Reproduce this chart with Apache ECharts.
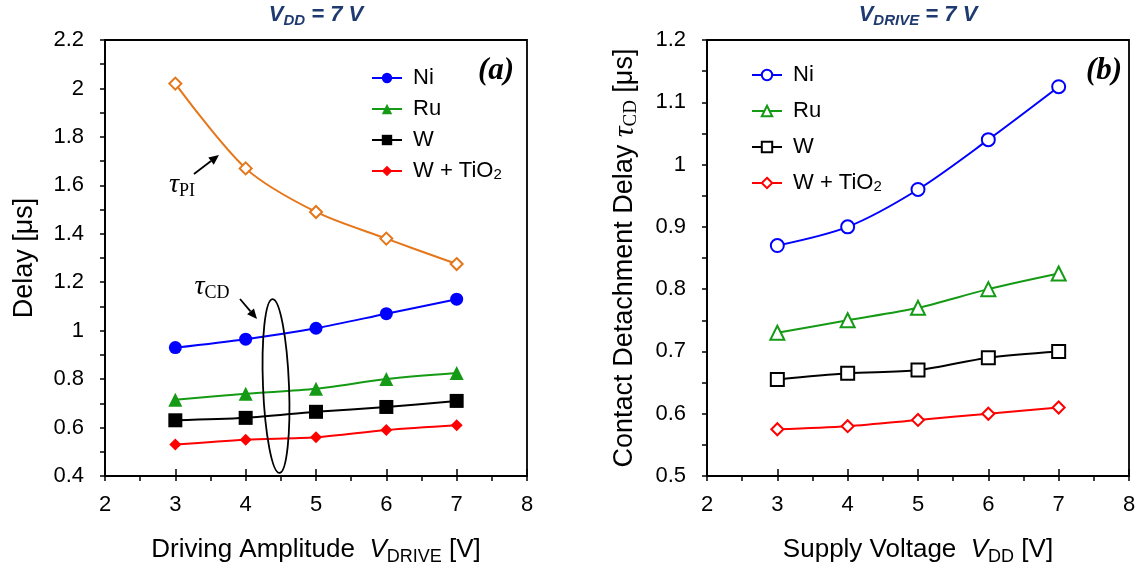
<!DOCTYPE html>
<html><head><meta charset="utf-8">
<script src="https://cdn.jsdelivr.net/npm/echarts@6/dist/echarts.min.js"></script>
<style>html,body{margin:0;padding:0;background:#fff}#c{width:1139px;height:567px}</style>
</head><body><div id="c"></div>
<script>
// ---- data ----
const xValues = [3, 4, 5, 6, 7];
// panel (a): V_DD = 7 V, x = V_DRIVE
const aNi   = [0.93, 0.965, 1.01, 1.07, 1.13];
const aRu   = [0.715, 0.74, 0.76, 0.80, 0.825];
const aW    = [0.63, 0.64, 0.665, 0.685, 0.71];
const aWTi  = [0.53, 0.55, 0.56, 0.59, 0.61];
const aTauPI = [2.02, 1.67, 1.49, 1.38, 1.275];
// panel (b): V_DRIVE = 7 V, x = V_DD
const bNi   = [0.87, 0.90, 0.96, 1.04, 1.125];
const bRu   = [0.73, 0.75, 0.77, 0.80, 0.825];
const bW    = [0.655, 0.665, 0.67, 0.69, 0.70];
const bWTi  = [0.575, 0.58, 0.59, 0.60, 0.61];
const seriesNames = ['Ni', 'Ru', 'W', 'W + TiO2'];
const xTicks = [2, 3, 4, 5, 6, 7, 8];

const SANS = "'Liberation Sans', Arial, sans-serif";
const SERIF = "'Liberation Serif', 'Times New Roman', serif";
const COL = {Ni:'#0000ff', Ru:'#159a15', W:'#000000', WTi:'#ff0000', PI:'#e5761a'};
const pts = arr => xValues.map((x, i) => [x, arr[i]]);

const chart = echarts.init(document.getElementById('c'), null, {renderer:'canvas'});

function nameRich(fs) {
  return {
    i: {fontFamily:SANS, fontSize:fs, fontStyle:'italic', lineHeight:32, color:'#000'},
    s: {fontFamily:SANS, fontSize:Math.round(fs * 0.68), lineHeight:17, verticalAlign:'bottom', color:'#000'},
    t: {fontFamily:SERIF, fontSize:fs + 3, fontStyle:'italic', lineHeight:32, color:'#000'},
    c: {fontFamily:SERIF, fontSize:Math.round(fs * 0.72), lineHeight:17, verticalAlign:'bottom', color:'#000'}
  };
}

function xAxes(grid, name) {
  return [{
    type:'value', gridIndex:grid, min:2, max:8, interval:1,
    name:name, nameLocation:'middle', nameGap:58,
    nameTextStyle:{fontFamily:SANS, fontSize:26, color:'#000', lineHeight:32, rich:nameRich(26)},
    axisLine:{lineStyle:{color:'#000', width:1.8}},
    axisTick:{show:true, inside:false, length:5, lineStyle:{color:'#000', width:1.5}},
    minorTick:{show:true, splitNumber:2, length:5, lineStyle:{color:'#000', width:1.5}},
    axisLabel:{fontFamily:SANS, fontSize:22, color:'#000', margin:18, formatter: v => xTicks.includes(v) ? String(v) : ''},
    splitLine:{show:false}
  }, {
    type:'value', gridIndex:grid, min:2, max:8, interval:1, position:'bottom',
    axisLine:{show:false}, axisLabel:{show:false}, splitLine:{show:false},
    axisTick:{show:true, inside:true, length:7, lineStyle:{color:'#000', width:1.5}}
  }];
}
function yAxis(grid, min, max, interval, name, gap, fmt) {
  return {
    type:'value', gridIndex:grid, min:min, max:max, interval:interval,
    name:name, nameLocation:'middle', nameGap:gap,
    nameTextStyle:{fontFamily:SANS, fontSize:27, color:'#000', lineHeight:32, rich:nameRich(27)},
    axisLine:{show:true, lineStyle:{color:'#000', width:1.8}},
    axisTick:{show:true, length:5, lineStyle:{color:'#000', width:1.5}},
    minorTick:{show:true, splitNumber:2, length:5, lineStyle:{color:'#000', width:1.5}},
    axisLabel:{fontFamily:SANS, fontSize:22, color:'#000', margin:21, formatter:fmt},
    splitLine:{show:false}
  };
}
const fmtA = v => String(Math.round(v * 10) / 10);
const fmtB = v => String(Math.round(v * 10) / 10);

function line(name, arr, xi, yi, color, symbol, size, filled) {
  return {
    type:'line', name:name, xAxisIndex:xi, yAxisIndex:yi, data:pts(arr),
    smooth:0.3, symbol:symbol, symbolSize:size, showSymbol:true,
    lineStyle:{color:color, width:2},
    itemStyle:{color: filled ? color : '#fff', borderColor:color, borderWidth: filled ? 0 : 2},
    emphasis:{disabled:true}, z:3
  };
}

const legendText = {fontFamily:SANS, fontSize:22, color:'#000', lineHeight:22, padding:[0,0,0,6],
  rich:{s:{fontFamily:SANS, fontSize:15, lineHeight:14, verticalAlign:'bottom', color:'#000'}}};
const legendFmt = n => n.replace('_b', '').replace('TiO2', 'TiO{s|2}');

function arrow(x1, y1, x2, y2) {
  const ang = Math.atan2(y2 - y1, x2 - x1), L = 10, W = 4.5;
  const bx = x2 - L * Math.cos(ang), by = y2 - L * Math.sin(ang);
  const px = -Math.sin(ang) * W, py = Math.cos(ang) * W;
  return [
    {type:'line', shape:{x1:x1, y1:y1, x2:bx, y2:by}, style:{stroke:'#000', lineWidth:1.8}, z:10},
    {type:'polygon', shape:{points:[[x2, y2], [bx + px, by + py], [bx - px, by - py]]}, style:{fill:'#000'}, z:10}
  ];
}

const titleRich = {
  v:{fontFamily:SANS, fontSize:22, fontWeight:'bold', fontStyle:'italic', fill:'#1f3a70', lineHeight:26},
  s:{fontFamily:SANS, fontSize:15, fontWeight:'bold', fontStyle:'italic', fill:'#1f3a70', lineHeight:14, verticalAlign:'bottom'}
};
const tauRich = {
  t:{fontFamily:SERIF, fontSize:28, fontStyle:'italic', lineHeight:30, fill:'#000'},
  c:{fontFamily:SERIF, fontSize:18, lineHeight:16, verticalAlign:'bottom', fill:'#000'}
};

chart.setOption({
  animation:false,
  backgroundColor:'#fff',
  grid:[
    {left:105, right:612, top:40, bottom:91, show:true, borderColor:'#000', borderWidth:1.8, backgroundColor:'transparent', outerBoundsMode:'none', containLabel:false},
    {left:707, right:10, top:40, bottom:91, show:true, borderColor:'#000', borderWidth:1.8, backgroundColor:'transparent', outerBoundsMode:'none', containLabel:false}
  ],
  xAxis:[].concat(
    xAxes(0, 'Driving Amplitude  {i|V}{s|DRIVE} [V]'),
    xAxes(1, 'Supply Voltage  {i|V}{s|DD} [V]')
  ),
  yAxis:[
    yAxis(0, 0.4, 2.2, 0.2, 'Delay [μs]', 64, fmtA),
    yAxis(1, 0.5, 1.2, 0.1, 'Contact Detachment Delay {t|τ}{c|CD} [μs]', 66, fmtB)
  ],
  legend:[
    {orient:'vertical', left:366, top:62, itemWidth:30, itemHeight:13, itemGap:9,
     data:seriesNames, textStyle:legendText, formatter:legendFmt, selectedMode:false},
    {orient:'vertical', left:746, top:59, itemWidth:30, itemHeight:13, itemGap:14,
     data:seriesNames.map(n => n + '_b'), textStyle:legendText, formatter:legendFmt, selectedMode:false}
  ],
  series:[
    line('tauPI', aTauPI, 0, 0, COL.PI, 'diamond', 12, false),
    line('Ni', aNi, 0, 0, COL.Ni, 'circle', 13, true),
    line('Ru', aRu, 0, 0, COL.Ru, 'triangle', 14, true),
    line('W', aW, 0, 0, COL.W, 'rect', 14, true),
    line('W + TiO2', aWTi, 0, 0, COL.WTi, 'diamond', 12, true),
    line('Ni_b', bNi, 2, 1, COL.Ni, 'circle', 13, false),
    line('Ru_b', bRu, 2, 1, COL.Ru, 'triangle', 14, false),
    line('W_b', bW, 2, 1, COL.W, 'rect', 13, false),
    line('W + TiO2_b', bWTi, 2, 1, COL.WTi, 'diamond', 12, false)
  ],
  graphic:[].concat([
    {type:'text', x:316, y:15, style:{text:'{v|V}{s|DD}{v| = 7 V}', rich:titleRich, align:'center', verticalAlign:'middle'}},
    {type:'text', x:918, y:15, style:{text:'{v|V}{s|DRIVE}{v| = 7 V}', rich:titleRich, align:'center', verticalAlign:'middle'}},
    {type:'text', x:496, y:71, style:{text:'(a)', font:"bold italic 31px 'Liberation Serif', serif", fill:'#000', align:'center', verticalAlign:'middle'}},
    {type:'text', x:1104, y:71, style:{text:'(b)', font:"bold italic 31px 'Liberation Serif', serif", fill:'#000', align:'center', verticalAlign:'middle'}},
    {type:'text', x:182, y:185, style:{text:'{t|τ}{c|PI}', rich:tauRich, align:'center', verticalAlign:'middle'}},
    {type:'text', x:212, y:287, style:{text:'{t|τ}{c|CD}', rich:tauRich, align:'center', verticalAlign:'middle'}},
    {type:'group', x:276, y:386, rotation:0.04, children:[
      {type:'ellipse', shape:{cx:0, cy:0, rx:13, ry:87}, style:{fill:'none', stroke:'#000', lineWidth:1.8}, z:10}
    ]}
  ], arrow(194, 174, 219, 155), arrow(240, 299, 257, 319))
});
</script></body></html>
